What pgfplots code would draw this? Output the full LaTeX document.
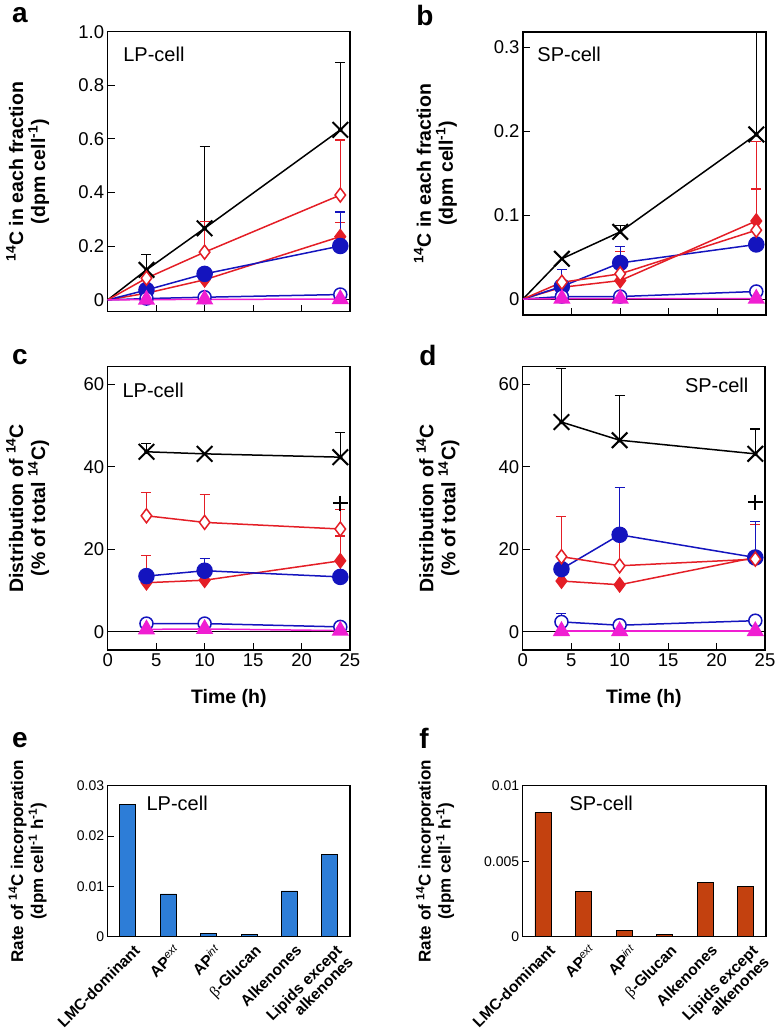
\documentclass[border=0pt]{standalone}
\usepackage{fontspec}
\setmainfont{Liberation Sans}
\newfontfamily\serifgr{Liberation Serif}
\usepackage{pgfplots}
\pgfplotsset{compat=1.18}
\definecolor{cred}{RGB}{228,30,38}
\definecolor{cblue}{RGB}{20,20,190}
\definecolor{cmag}{RGB}{240,30,210}
\definecolor{ebar}{RGB}{45,125,215}
\definecolor{fbar}{RGB}{195,65,15}
\newcommand{\fsT}{\fontsize{18.5}{20}\selectfont}
\newcommand{\fsL}{\fontsize{19.5}{22}\selectfont\bfseries}
\newcommand{\fsP}{\fontsize{20}{22}\selectfont}
\newcommand{\eb}[2]{\addplot[only marks, mark=none, forget plot, error bars/.cd, y dir=plus, y explicit, error bar style={#1, line width=1.2pt}, error mark options={#1, rotate=90, mark size=5pt, line width=1.2pt}] coordinates {#2};}
\pgfplotsset{
 sX/.style={black, line width=1.5pt, mark=x, mark size=11pt, mark options={line width=2pt}},
 sRO/.style={cred, line width=1.5pt, mark=diamond*, mark size=7pt, mark options={fill=white, line width=1.5pt}},
 sRF/.style={cred, line width=1.5pt, mark=diamond*, mark size=7pt, mark options={fill=cred}},
 sBF/.style={cblue, line width=1.5pt, mark=*, mark size=7.5pt, mark options={fill=cblue}},
 sBO/.style={cblue, line width=1.5pt, mark=*, mark size=6.5pt, mark options={fill=white, line width=1.5pt}},
 sM/.style={cmag, line width=1.5pt, mark=triangle*, mark size=8.5pt, mark options={fill=cmag}},
 lineax/.style={scale only axis, anchor=north west, width=242.3pt, height=283pt,
   axis line style={line width=1.2pt}, tick style={line width=1pt, black}, tick align=inside,
   major tick length=7pt, xtick pos=lower, ytick pos=left, xmin=0, xmax=25,
   ticklabel style={font=\fsT}, label style={font=\fsL, align=center},
   ylabel style={at={(axis description cs:-0.33,0.5)}, anchor=center},
   extra y ticks={0}, extra y tick labels={}, extra y tick style={grid=major, major grid style={black, line width=1pt}, major tick length=0pt},
   clip=false},
 barax/.style={scale only axis, anchor=north west, width=242.3pt, height=151pt,
   axis line style={line width=1.2pt}, ytick style={line width=1pt, black}, tick align=inside,
   major tick length=6pt, xtick pos=lower, ytick pos=left, xmin=-0.5, xmax=5.5, ymin=0,
   scaled y ticks=false,
   xtick={0,...,5}, x tick style={draw=none},
   xticklabels={LMC-dominant, AP\textsuperscript{\normalfont\itshape ext}, AP\textsuperscript{\normalfont\itshape int}, {{\serifgr\mdseries β}-Glucan}, Alkenones, {Lipids except\\alkenones}},
   x tick label style={font=\fontsize{15.5}{16}\selectfont\bfseries, xshift=5pt, yshift=2pt, rotate=45, anchor=north east, align=right, inner sep=2pt},
   y tick label style={font=\fontsize{14}{16}\selectfont},
   label style={font=\fontsize{17}{20}\selectfont\bfseries, align=center},
   ylabel style={at={(axis description cs:-0.33,0.5)}, anchor=center},
   ybar, bar width=16pt},
}
\begin{document}
\begin{tikzpicture}
\useasboundingbox (0,0) rectangle (780pt,-1033pt);
% panel a
\begin{axis}[lineax, at={(107.7pt,-31.7pt)}, height=280pt, ymin=-0.044, ymax=1.0,
  xtick={5,10,15,20}, xticklabels={},
  ytick={0,0.2,0.4,0.6,0.8,1.0}, yticklabels={0,0.2,0.4,0.6,0.8,1.0},
  ylabel={\textsuperscript{14}C in each fraction\\(dpm cell\textsuperscript{-1})}]
\eb{black}{(4,0.112) +- (0,0.056) (10,0.267) +- (0,0.304) (24,0.634) +- (0,0.252)}
\eb{cred}{(10,0.178) +- (0,0.114) (24,0.391) +- (0,0.205) (24,0.236) +- (0,0.052)}
\eb{cblue}{(24,0.201) +- (0,0.127)}
\addplot[sX, mark indices={2,3,4}] coordinates {(0,0) (4,0.112) (10,0.267) (24,0.634)};
\addplot[sRF, mark indices={2,3,4}] coordinates {(0,0) (4,0.025) (10,0.075) (24,0.236)};
\addplot[sBF, mark indices={2,3,4}] coordinates {(0,0) (4,0.037) (10,0.097) (24,0.201)};
\addplot[sRO, mark indices={2,3,4}] coordinates {(0,0) (4,0.081) (10,0.178) (24,0.391)};
\addplot[sBO, mark indices={2,3,4}] coordinates {(0,0) (4,0.005) (10,0.01) (24,0.02)};
\addplot[sM, mark indices={2,3,4}] coordinates {(0,0) (4,0.001) (10,0.002) (24,0.003)};
\node[anchor=base west, font=\fsP] at (rel axis cs:0.05,0.892) {LP-cell};
\end{axis}
% panel b
\begin{axis}[lineax, at={(523pt,-32pt)}, width=243pt, ymin=-0.019, ymax=0.318,
  xtick={5,10,15,20}, xticklabels={},
  ytick={0,0.1,0.2,0.3}, yticklabels={0,0.1,0.2,0.3},
  ylabel style={at={(axis description cs:-0.36,0.5)}},
  ylabel={\textsuperscript{14}C in each fraction\\(dpm cell\textsuperscript{-1})}]
\eb{black}{(10,0.080) +- (0,0.008) (24,0.196) +- (0,0.122)}
\eb{cred}{(10,0.030) +- (0,0.027) (24,0.082) +- (0,0.106) (24,0.093) +- (0,0.038)}
\eb{cblue}{(4,0.015) +- (0,0.02) (10,0.043) +- (0,0.02)}
\addplot[sX, mark indices={2,3,4}] coordinates {(0,0) (4,0.048) (10,0.080) (24,0.196)};
\addplot[sRF, mark indices={2,3,4}] coordinates {(0,0) (4,0.014) (10,0.022) (24,0.093)};
\addplot[sBF, mark indices={2,3,4}] coordinates {(0,0) (4,0.015) (10,0.043) (24,0.065)};
\addplot[sRO, mark indices={2,3,4}] coordinates {(0,0) (4,0.020) (10,0.030) (24,0.082)};
\addplot[sBO, mark indices={2,3,4}] coordinates {(0,0) (4,0.003) (10,0.003) (24,0.009)};
\addplot[sM, mark indices={2,3,4}] coordinates {(0,0) (4,0.0005) (10,0.0005) (24,0.0005)};
\node[anchor=base west, font=\fsP] at (rel axis cs:0.045,0.894) {SP-cell};
\end{axis}
% panel c
\begin{axis}[lineax, at={(107.7pt,-366.7pt)}, height=283.3pt, ymin=-4.4, ymax=64.2,
  xtick={0,5,10,15,20,25}, xticklabels={0,5,10,15,20,25},
  ytick={0,20,40,60}, yticklabels={0,20,40,60},
  xlabel style={at={(axis description cs:0.5,-0.125)}, anchor=north},
  xlabel={Time (h)},
  ylabel={Distribution of \textsuperscript{14}C\\(\% of total \textsuperscript{14}C)}]
\eb{black}{(4,43.6) +- (0,2.0) (24,42.3) +- (0,6.0)}
\eb{cred}{(4,28.1) +- (0,5.6) (10,26.5) +- (0,6.7) (24,24.9) +- (0,4.7) (4,11.9) +- (0,6.5) (24,17.2) +- (0,6.0)}
\eb{cblue}{(10,14.8) +- (0,3.0) (24,13.3) +- (0,3.9)}
\addplot[sX] coordinates {(4,43.6) (10,43.1) (24,42.3)};
\addplot[sRF] coordinates {(4,11.9) (10,12.5) (24,17.2)};
\addplot[sBF] coordinates {(4,13.5) (10,14.8) (24,13.3)};
\addplot[sRO] coordinates {(4,28.1) (10,26.5) (24,24.9)};
\addplot[sBO] coordinates {(4,2.0) (10,2.0) (24,1.2)};
\addplot[sM] coordinates {(4,0.6) (10,0.7) (24,0.3)};
\addplot[only marks, black, mark=+, mark size=7.5pt, mark options={line width=2pt}] coordinates {(24,31.1)};
\node[anchor=base west, font=\fsP] at (rel axis cs:0.047,0.893) {LP-cell};
\end{axis}
% panel d
\begin{axis}[lineax, at={(522.7pt,-366.7pt)}, height=283.3pt, ymin=-4.4, ymax=64.2,
  xtick={0,5,10,15,20,25}, xticklabels={0,5,10,15,20,25},
  ytick={0,20,40,60}, yticklabels={0,20,40,60},
  xlabel style={at={(axis description cs:0.5,-0.125)}, anchor=north},
  xlabel={Time (h)},
  ylabel style={at={(axis description cs:-0.35,0.5)}},
  ylabel={Distribution of \textsuperscript{14}C\\(\% of total \textsuperscript{14}C)}]
\eb{black}{(4,50.8) +- (0,13.0) (10,46.4) +- (0,10.8) (24,43.1) +- (0,6.0)}
\eb{cred}{(4,18.2) +- (0,9.8) (10,16.0) +- (0,9.1) (24,17.6) +- (0,8.4) (4,12.3) +- (0,2.7)}
\eb{cblue}{(10,23.5) +- (0,11.5) (24,18.0) +- (0,8.7) (4,2.4) +- (0,2.0)}
\addplot[sX] coordinates {(4,50.8) (10,46.4) (24,43.1)};
\addplot[sRF] coordinates {(4,12.3) (10,11.4) (24,18.0)};
\addplot[sBF] coordinates {(4,15.2) (10,23.5) (24,18.0)};
\addplot[sRO] coordinates {(4,18.2) (10,16.0) (24,17.6)};
\addplot[sBO] coordinates {(4,2.4) (10,1.6) (24,2.7)};
\addplot[sM] coordinates {(4,0.2) (10,0.2) (24,0.2)};
\addplot[only marks, black, mark=+, mark size=7.5pt, mark options={line width=2pt}] coordinates {(24,31.4)};
\node[anchor=base east, font=\fsP] at (rel axis cs:0.946,0.91) {SP-cell};
\end{axis}
% panel e
\begin{axis}[barax, at={(107.7pt,-785.7pt)}, ymax=0.03,
  ytick={0,0.01,0.02,0.03}, yticklabels={0,0.01,0.02,0.03},
  ylabel={Rate of \textsuperscript{14}C incorporation\\(dpm cell\textsuperscript{-1} h\textsuperscript{-1})}]
\addplot[fill=ebar, draw=black, line width=0.8pt] coordinates {(0,0.0263) (1,0.0085) (2,0.00066) (3,0.00046) (4,0.0091) (5,0.01636)};
\node[anchor=base west, font=\fsP] at (rel axis cs:0.146,0.839) {LP-cell};
\end{axis}
% panel f
\begin{axis}[barax, at={(522.7pt,-785.7pt)}, width=243.3pt, ymax=0.01,
  ytick={0,0.005,0.01}, yticklabels={0,0.005,0.01},
  ylabel style={at={(axis description cs:-0.36,0.5)}},
  ylabel={Rate of \textsuperscript{14}C incorporation\\(dpm cell\textsuperscript{-1} h\textsuperscript{-1})}]
\addplot[fill=fbar, draw=black, line width=0.8pt] coordinates {(0,0.00821) (1,0.00298) (2,0.00044) (3,0.00015) (4,0.0036) (5,0.00331)};
\node[anchor=base west, font=\fsP] at (rel axis cs:0.178,0.839) {SP-cell};
\end{axis}
% panel letters
\node[font=\fontsize{28}{30}\selectfont\bfseries] at (20pt,-15pt) {a};
\node[font=\fontsize{28}{30}\selectfont\bfseries] at (425pt,-15pt) {b};
\node[font=\fontsize{28}{30}\selectfont\bfseries] at (20pt,-357pt) {c};
\node[font=\fontsize{28}{30}\selectfont\bfseries] at (428pt,-355pt) {d};
\node[font=\fontsize{28}{30}\selectfont\bfseries] at (20pt,-740pt) {e};
\node[font=\fontsize{28}{30}\selectfont\bfseries] at (424pt,-738pt) {f};
\end{tikzpicture}
\end{document}
